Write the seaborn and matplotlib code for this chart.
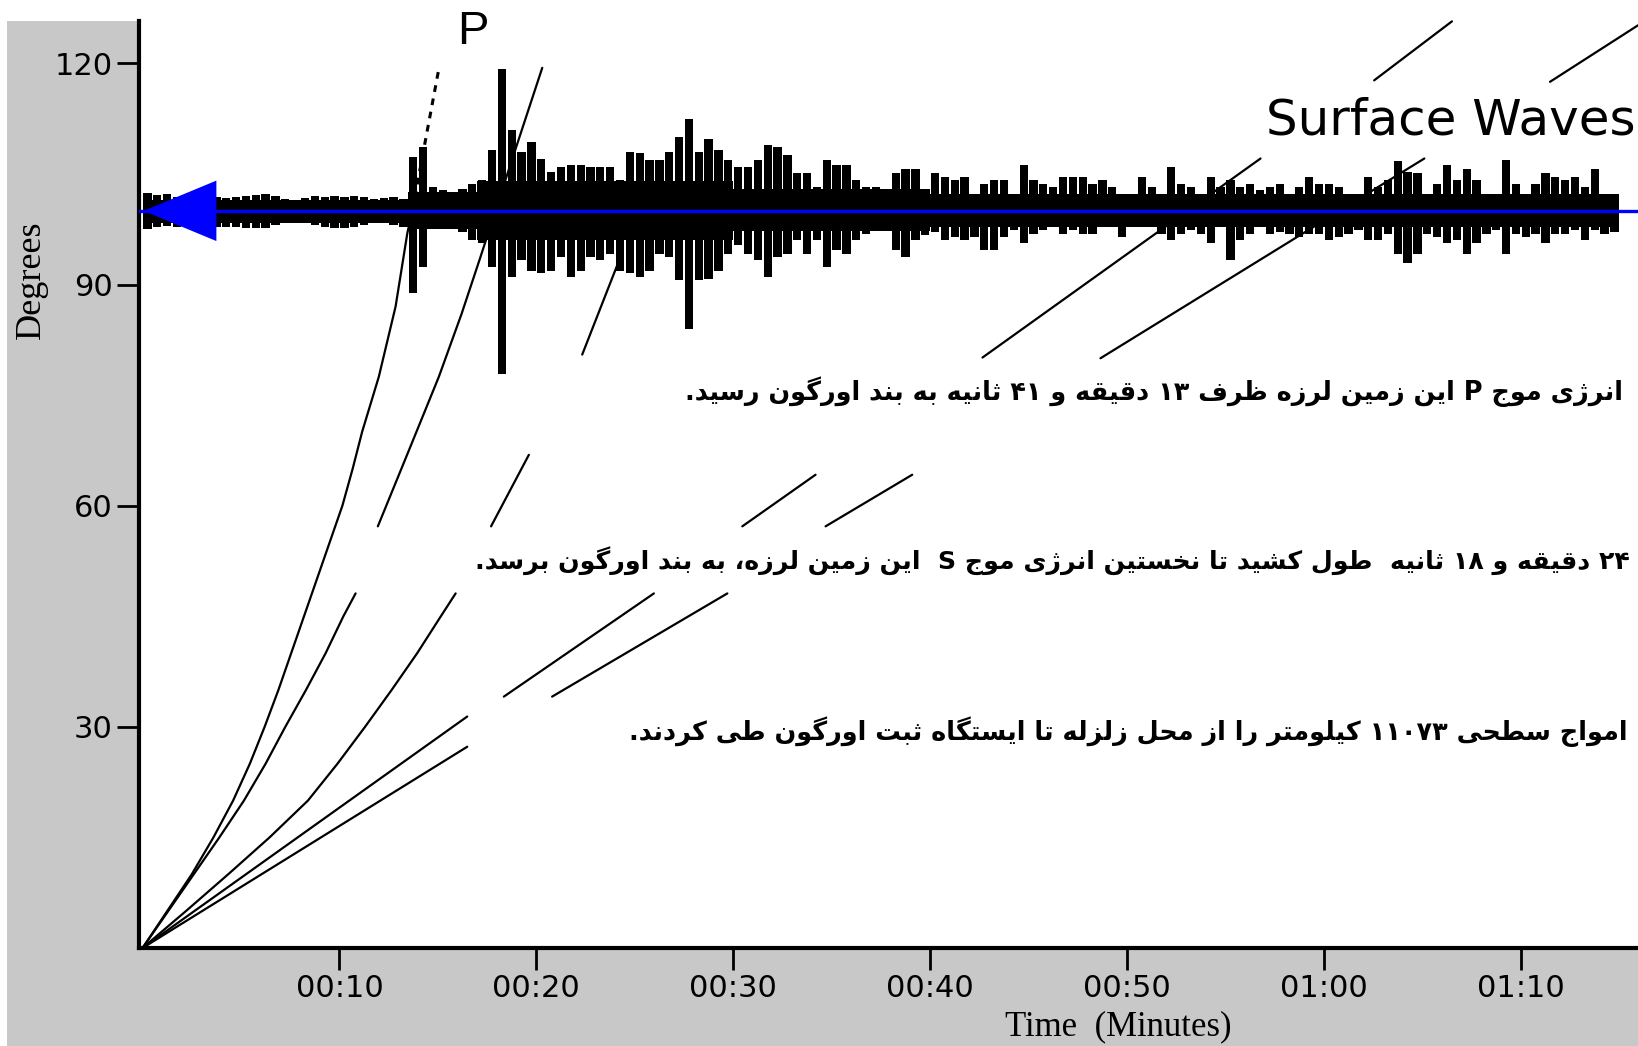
import numpy as np
import pandas as pd
import matplotlib
matplotlib.use("Agg")
import matplotlib.pyplot as plt
from matplotlib.patches import Rectangle
import seaborn as sns

# ---------------- data ----------------
# seismogram peaks, 0.5-minute bins starting at 0 min (degrees above / below the 100-degree baseline)
trace_bin = 0.5
trace_up = [2.4, 2.1, 2.3, 1.9, 2.0, 1.8, 2.0, 1.9, 1.7, 1.9,
            2.0, 2.1, 2.35, 2.0, 1.6, 1.5, 1.8, 2.0, 1.9, 2.0,
            1.9, 2.0, 1.9, 1.6, 1.7, 1.9, 1.6, 7.3, 8.7, 3.3,
            2.8, 2.6, 3.0, 3.7, 4.2, 8.2, 19.3, 11.0, 8.0, 9.4,
            7.0, 5.3, 6.0, 6.2, 6.2, 6.0, 6.0, 6.0, 4.2, 8.0,
            7.8, 6.9, 6.9, 8.0, 10.0, 12.5, 8.0, 9.8, 8.2, 6.9,
            6.0, 6.0, 6.9, 8.9, 8.7, 7.6, 5.1, 5.1, 3.3, 6.9,
            6.2, 6.2, 4.2, 3.3, 3.3, 2.35, 5.1, 5.7, 5.7, 2.35,
            5.1, 4.6, 4.2, 4.6, 2.35, 3.7, 4.2, 4.2, 2.1, 6.2,
            4.2, 3.7, 3.3, 4.6, 4.6, 4.6, 3.7, 4.2, 3.3, 2.35,
            1.9, 4.6, 3.3, 2.35, 6.0, 3.7, 3.3, 1.9, 4.6, 3.3,
            4.2, 3.3, 3.7, 2.8, 3.3, 3.7, 2.35, 3.3, 4.6, 3.7,
            3.7, 3.3, 1.9, 1.9, 4.6, 3.3, 4.2, 6.7, 5.3, 5.1,
            1.9, 3.7, 6.2, 4.2, 5.7, 4.2, 1.9, 1.9, 6.9, 3.7,
            2.35, 3.7, 5.1, 4.6, 4.2, 4.6, 3.3, 5.7, 2.35, 2.35]
trace_down = [2.4, 2.2, 2.0, 2.2, 2.0, 2.2, 2.1, 2.2, 2.2, 2.2,
              2.3, 2.3, 2.3, 1.9, 1.6, 1.5, 1.7, 1.9, 2.2, 2.3,
              2.3, 2.2, 1.9, 1.6, 1.7, 1.9, 2.2, 11.2, 7.6, 2.4,
              2.2, 2.3, 2.9, 4.0, 4.4, 7.6, 22.1, 9.0, 6.7, 8.1,
              8.5, 8.1, 6.2, 9.0, 8.1, 6.2, 6.7, 5.8, 8.1, 8.5,
              9.0, 8.1, 5.8, 6.2, 9.4, 16.0, 9.4, 9.2, 8.1, 5.8,
              4.7, 5.8, 6.7, 9.0, 6.2, 5.8, 4.0, 5.8, 4.0, 7.6,
              5.3, 5.8, 4.0, 3.1, 2.2, 2.4, 5.3, 6.2, 4.0, 3.3,
              2.9, 4.0, 3.5, 4.0, 3.5, 5.3, 5.3, 3.5, 2.6, 4.4,
              3.1, 2.6, 2.2, 3.1, 2.6, 3.1, 3.1, 2.2, 2.2, 3.5,
              2.2, 2.2, 1.7, 3.1, 4.0, 3.1, 2.6, 3.1, 4.4, 2.2,
              6.7, 4.0, 3.1, 2.2, 3.1, 2.9, 3.1, 3.5, 3.1, 3.1,
              4.0, 3.5, 3.1, 2.6, 4.0, 4.0, 3.1, 5.8, 7.1, 5.8,
              3.1, 3.5, 4.4, 4.0, 5.8, 4.4, 3.1, 2.6, 5.8, 3.1,
              3.5, 3.1, 4.4, 3.1, 3.1, 2.6, 4.0, 2.6, 3.1, 2.9]
# solid core of the trace, by time block
core_edges = [0.1, 13.5, 17.0, 30.0, 40.0, 74.9]
core_up = [1.5, 2.5, 4.0, 3.0, 2.3]
core_down = [1.6, 2.4, 4.0, 2.8, 2.2]
baseline_deg = 100

# travel-time curves: (minutes, degrees)
p_min = [0, 1.25, 2.5, 3.6, 4.6, 5.45, 6.2, 6.9, 7.55, 8.2, 8.85, 9.5, 10.15, 10.67, 11.15, 12.0, 12.85, 13.45, 13.7]
p_deg = [0, 5, 10, 15, 20, 25, 30, 35, 40, 45, 50, 55, 60, 65, 70, 77.5, 87, 97, 100]
pdiff_min = [13.7, 14.37, 15.05]
pdiff_deg = [100, 109.6, 119.3]
pp1_min = [0, 2.6, 3.9, 5.15, 6.25, 7.25, 8.3, 9.3, 10.2, 10.82]
pp1_deg = [0, 10, 15, 20, 25, 30, 35, 40, 45, 48.1]
pp2_min = [11.95, 13.45, 15.05, 16.2, 17.17, 18.65, 20.3]
pp2_deg = [57.2, 67, 77.5, 86, 93.8, 106, 119.4]
s1_min = [0, 2.2, 4.35, 6.45, 8.4, 9.9, 11.3, 12.65, 13.95, 15.15, 15.9]
s1_deg = [0, 5, 10, 15, 20, 25, 30, 35, 40, 45, 48.1]
s2_min = [17.7, 19.62]
s2_deg = [57.2, 66.9]
s3_min = [22.33, 24.28]
s3_deg = [80.5, 93.8]
love_min = [[0, 16.49], [18.35, 25.97], [30.46, 34.18], [42.66, 56.78], [62.55, 66.5]]
love_deg = [[0, 31.4], [34.1, 48.1], [57.2, 64.2], [80.1, 107.1], [117.7, 125.7]]
rayl_min = [[0, 16.49], [20.8, 29.7], [34.69, 39.09], [48.65, 65.1], [71.48, 75.97]]
rayl_deg = [[0, 27.3], [34.1, 48.1], [57.2, 64.2], [80.0, 107.1], [117.5, 125.2]]

arrow_min = [0.05, 3.75]
arrow_halfheight = 4.1

x_ticks = [10, 20, 30, 40, 50, 60, 70]
x_ticklabels = ["00:10", "00:20", "00:30", "00:40", "00:50", "01:00", "01:10"]
y_ticks = [30, 60, 90, 120]
y_ticklabels = ["30", "60", "90", "120"]

row1 = "انرژی موج P این زمین لرزه ظرف ۱۳ دقیقه و ۴۱ ثانیه به بند اورگون رسید."
row2 = "۲۴ دقیقه و ۱۸ ثانیه  طول کشید تا نخستین انرژی موج S  این زمین لرزه، به بند اورگون برسد."
row3 = "امواج سطحی ۱۱۰۷۳ کیلومتر را از محل زلزله تا ایستگاه ثبت اورگون طی کردند."

# ---------------- simple Arabic/Persian shaping + RTL ordering ----------------
FORMS = {
    '\u0627': ('\uFE8D', '\uFE8E', None, None),
    '\u0628': ('\uFE8F', '\uFE90', '\uFE91', '\uFE92'),
    '\u062A': ('\uFE95', '\uFE96', '\uFE97', '\uFE98'),
    '\u062B': ('\uFE99', '\uFE9A', '\uFE9B', '\uFE9C'),
    '\u062C': ('\uFE9D', '\uFE9E', '\uFE9F', '\uFEA0'),
    '\u062D': ('\uFEA1', '\uFEA2', '\uFEA3', '\uFEA4'),
    '\u062E': ('\uFEA5', '\uFEA6', '\uFEA7', '\uFEA8'),
    '\u062F': ('\uFEA9', '\uFEAA', None, None),
    '\u0630': ('\uFEAB', '\uFEAC', None, None),
    '\u0631': ('\uFEAD', '\uFEAE', None, None),
    '\u0632': ('\uFEAF', '\uFEB0', None, None),
    '\u0633': ('\uFEB1', '\uFEB2', '\uFEB3', '\uFEB4'),
    '\u0634': ('\uFEB5', '\uFEB6', '\uFEB7', '\uFEB8'),
    '\u0635': ('\uFEB9', '\uFEBA', '\uFEBB', '\uFEBC'),
    '\u0636': ('\uFEBD', '\uFEBE', '\uFEBF', '\uFEC0'),
    '\u0637': ('\uFEC1', '\uFEC2', '\uFEC3', '\uFEC4'),
    '\u0638': ('\uFEC5', '\uFEC6', '\uFEC7', '\uFEC8'),
    '\u0639': ('\uFEC9', '\uFECA', '\uFECB', '\uFECC'),
    '\u063A': ('\uFECD', '\uFECE', '\uFECF', '\uFED0'),
    '\u0641': ('\uFED1', '\uFED2', '\uFED3', '\uFED4'),
    '\u0642': ('\uFED5', '\uFED6', '\uFED7', '\uFED8'),
    '\u0644': ('\uFEDD', '\uFEDE', '\uFEDF', '\uFEE0'),
    '\u0645': ('\uFEE1', '\uFEE2', '\uFEE3', '\uFEE4'),
    '\u0646': ('\uFEE5', '\uFEE6', '\uFEE7', '\uFEE8'),
    '\u0647': ('\uFEE9', '\uFEEA', '\uFEEB', '\uFEEC'),
    '\u0648': ('\uFEED', '\uFEEE', None, None),
    '\u064A': ('\uFEF1', '\uFEF2', '\uFEF3', '\uFEF4'),
    '\u067E': ('\uFB56', '\uFB57', '\uFB58', '\uFB59'),
    '\u0686': ('\uFB7A', '\uFB7B', '\uFB7C', '\uFB7D'),
    '\u0698': ('\uFB8A', '\uFB8B', None, None),
    '\u06A9': ('\uFB8E', '\uFB8F', '\uFB90', '\uFB91'),
    '\u06AF': ('\uFB92', '\uFB93', '\uFB94', '\uFB95'),
    '\u06CC': ('\uFBFC', '\uFBFD', '\uFBFE', '\uFBFF'),
}


def shape_rtl(text):
    out = []
    n = len(text)
    for i, c in enumerate(text):
        if c not in FORMS:
            out.append(c)
            continue
        f = FORMS[c]
        prev = text[i - 1] if i > 0 else None
        nxt = text[i + 1] if i + 1 < n else None
        jp = prev in FORMS and FORMS[prev][2] is not None
        jn = f[2] is not None and nxt in FORMS
        if jp and jn:
            out.append(f[3])
        elif jp:
            out.append(f[1])
        elif jn:
            out.append(f[2])
        else:
            out.append(f[0])

    def is_ltr(ch):
        return (ch.isascii() and ch.isalnum()) or ('\u06F0' <= ch <= '\u06F9')

    runs = []
    for ch in out:
        l = is_ltr(ch)
        if runs and runs[-1][0] == l:
            runs[-1][1].append(ch)
        else:
            runs.append([l, [ch]])
    vis = []
    for l, chs in reversed(runs):
        vis.append(''.join(chs if l else reversed(chs)))
    return ''.join(vis)


# ---------------- figure ----------------
sns.set_theme(style="white")
plt.rcParams['font.family'] = ['DejaVu Sans']
plt.rcParams['text.color'] = 'black'
plt.rcParams['axes.labelcolor'] = 'black'

W, H = 1638, 1046
fig = plt.figure(figsize=(W / 100, H / 100), dpi=100, facecolor='white')
GRAY = '#C8C8C8'
r1 = Rectangle((7 / W, 0), (139 - 7) / W, (H - 21) / H, transform=fig.transFigure,
               facecolor=GRAY, edgecolor='none', zorder=-5)
r2 = Rectangle((7 / W, 0), 1 - 7 / W, 98 / H, transform=fig.transFigure,
               facecolor=GRAY, edgecolor='none', zorder=-5)
fig.add_artist(r1)
fig.add_artist(r2)

ax = fig.add_axes([139 / W, 98 / H, (W - 139) / W, 948 / H])
ax.set_facecolor('white')
ax.set_xlim(-0.18, 75.95)
ax.set_ylim(0, 128.6)

# travel-time curves
rows = []
seg = 0
for mins, degs in [(p_min, p_deg), (pp1_min, pp1_deg), (pp2_min, pp2_deg),
                   (s1_min, s1_deg), (s2_min, s2_deg), (s3_min, s3_deg)] + \
        list(zip(love_min, love_deg)) + list(zip(rayl_min, rayl_deg)):
    for m, d in zip(mins, degs):
        rows.append({'minutes': m, 'degrees': d, 'segment': seg})
    seg += 1
curves = pd.DataFrame(rows)
sns.lineplot(data=curves, x='minutes', y='degrees', units='segment', estimator=None, sort=False,
             color='black', lw=1.6, ax=ax, legend=False, zorder=2)
pdiff = pd.DataFrame({'minutes': pdiff_min, 'degrees': pdiff_deg})
sns.lineplot(data=pdiff, x='minutes', y='degrees', estimator=None, sort=False, color='black',
             lw=2.2, linestyle=(0, (2.2, 2.2)), ax=ax, legend=False, zorder=2)

# seismogram: solid core + peaks
cu = np.array(core_up)
cd = np.array(core_down)
ce = np.array(core_edges)
ax.bar(ce[:-1], cu + cd, bottom=baseline_deg - cd, width=np.diff(ce), align='edge',
       color='black', lw=0, zorder=3)
up = np.array(trace_up)
dn = np.array(trace_down)
centers = trace_bin * (np.arange(len(up)) + 0.5)
ax.bar(centers, up + dn, bottom=baseline_deg - dn, width=0.42, color='black', lw=0, zorder=3)

# station line and arrow
ax.axhline(baseline_deg, color='#0000FF', lw=2.4, zorder=5)
ax.fill([arrow_min[0], arrow_min[1], arrow_min[1]],
        [baseline_deg, baseline_deg + arrow_halfheight, baseline_deg - arrow_halfheight],
        color='#0000FF', lw=0, zorder=6)

# axes styling
for side in ['top', 'right']:
    ax.spines[side].set_visible(False)
for side in ['left', 'bottom']:
    ax.spines[side].set_color('black')
    ax.spines[side].set_linewidth(3)
ax.spines['left'].set_bounds(0, 125.8)
ax.set_xticks(x_ticks)
ax.set_xticklabels(x_ticklabels)
ax.set_yticks(y_ticks)
ax.set_yticklabels(y_ticklabels)
ax.tick_params(axis='both', which='major', direction='out', length=16, width=2, color='black',
               labelsize=22, labelcolor='black', pad=3, bottom=True, left=True)
ax.grid(False)

ax.set_ylabel('Degrees', fontsize=26, family='Liberation Serif', color='black')
ax.yaxis.set_label_coords(-0.061, 0.705)
ax.set_xlabel('Time  (Minutes)', fontsize=25, family='Liberation Serif', color='black')
ax.xaxis.set_label_coords(0.653, -0.066)

# annotations
ax.text(16.8, 124.2, 'P', fontsize=34, family='Liberation Sans', ha='center', va='center',
        color='black', zorder=7)
ax.text(75.85, 112.3, 'Surface Waves', fontsize=36, family='DejaVu Sans', ha='right', va='center',
        color='black', zorder=7)
ax.text(75.2, 75.5, shape_rtl(row1), fontsize=18.4, fontweight='bold', family='DejaVu Sans',
        ha='right', va='center', color='black', zorder=7)
ax.text(75.55, 52.5, shape_rtl(row2), fontsize=18.2, fontweight='bold', family='DejaVu Sans',
        ha='right', va='center', color='black', zorder=7)
ax.text(75.4, 29.4, shape_rtl(row3), fontsize=18.4, fontweight='bold', family='DejaVu Sans',
        ha='right', va='center', color='black', zorder=7)

fig.savefig('out.png', dpi=100, facecolor='white')
